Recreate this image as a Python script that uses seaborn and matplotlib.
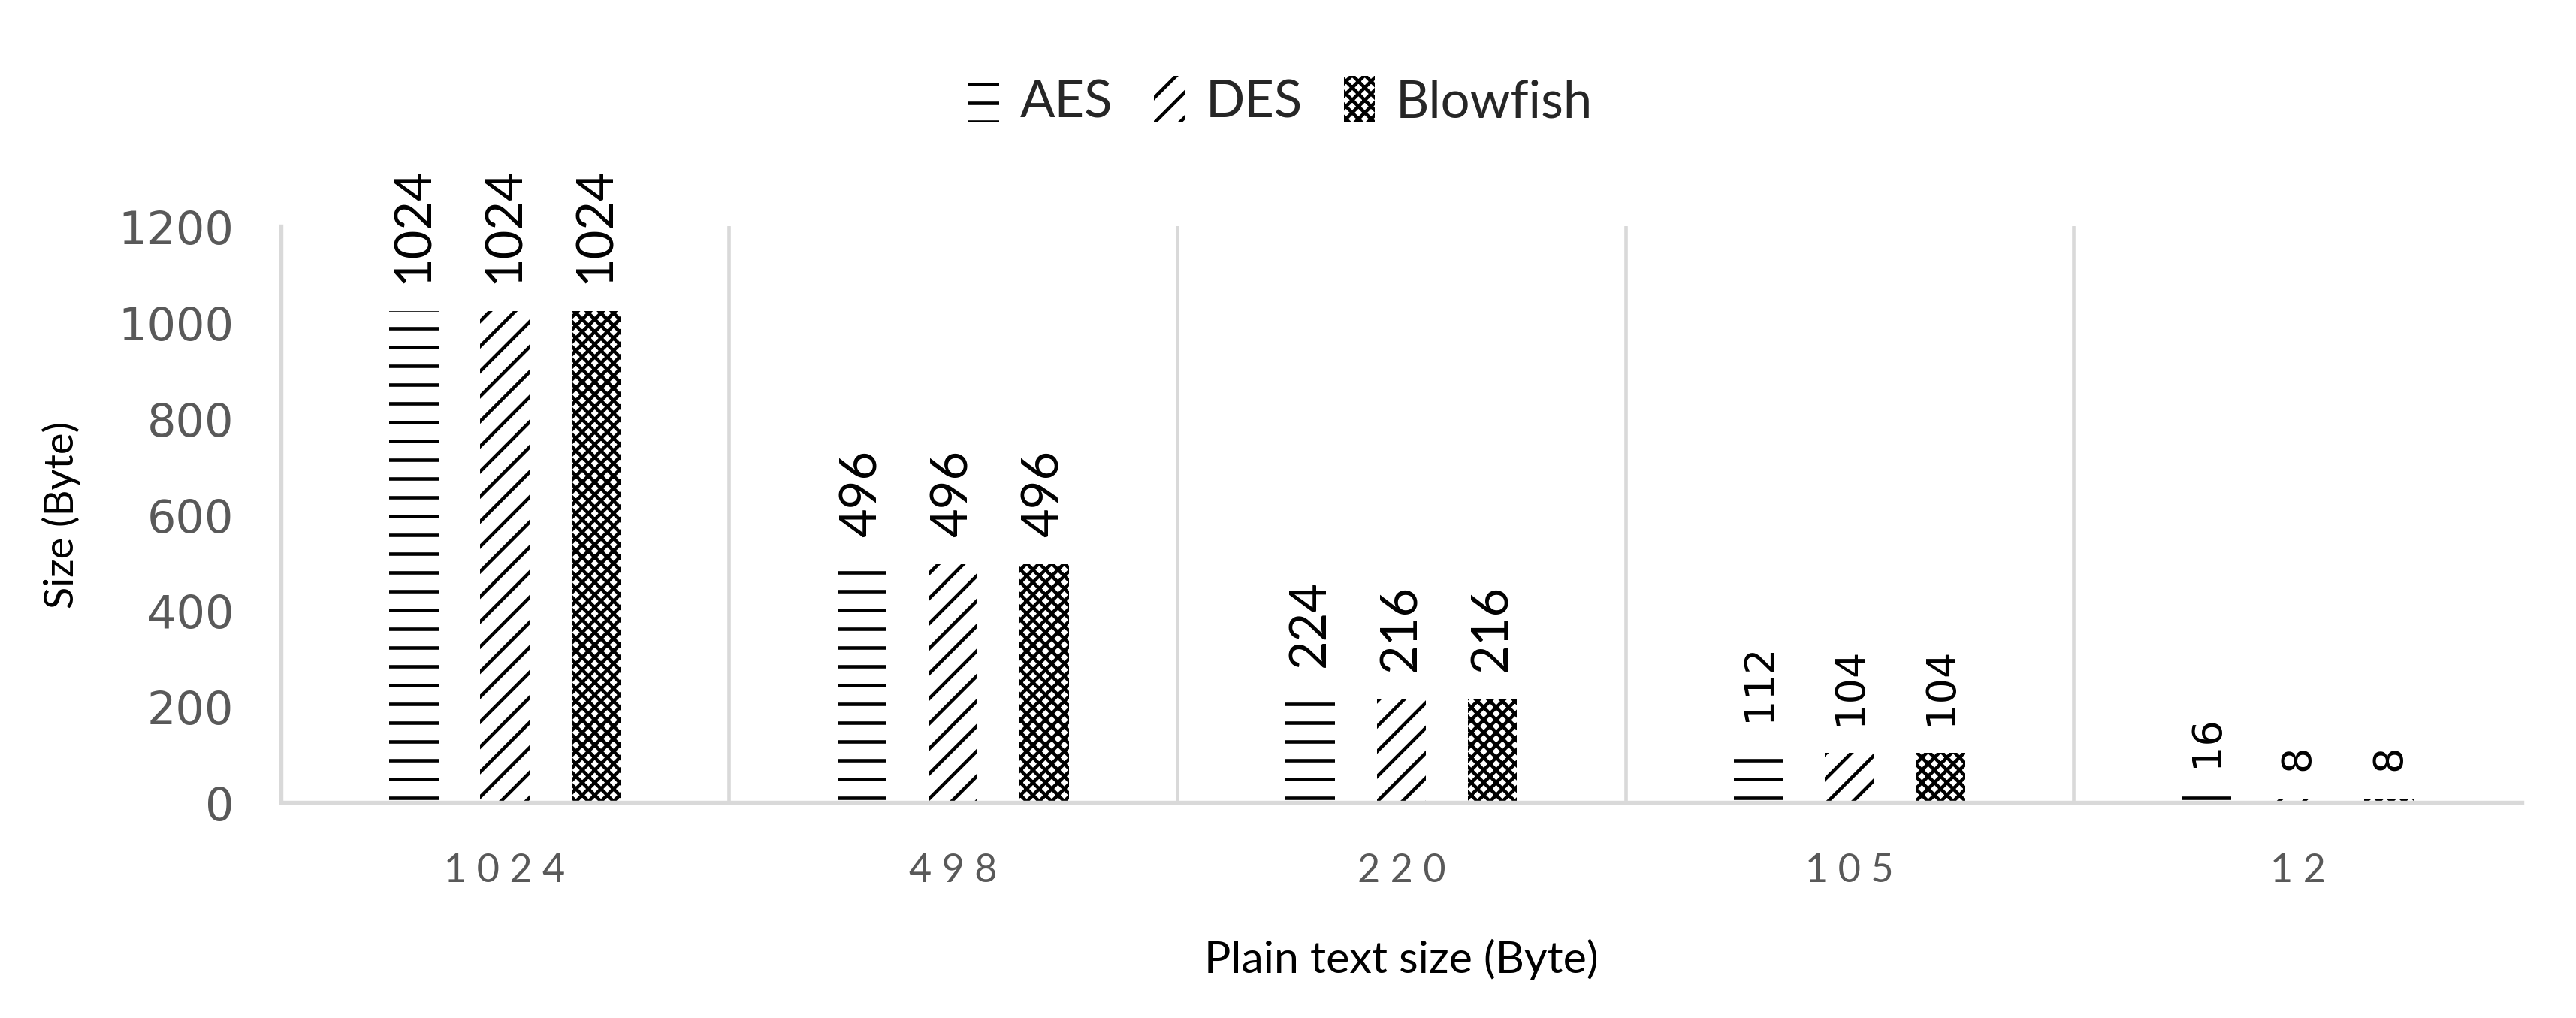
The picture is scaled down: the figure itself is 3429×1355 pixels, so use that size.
import numpy as np
import pandas as pd
import matplotlib
matplotlib.use("Agg")
import matplotlib.pyplot as plt
import seaborn as sns
from matplotlib.patches import Patch

# Data
plain_sizes = ["1024", "498", "220", "105", "12"]
algorithms = ["AES", "DES", "Blowfish"]
aes = [1024, 496, 224, 112, 16]
des = [1024, 496, 216, 104, 8]
blowfish = [1024, 496, 216, 104, 8]
y_ticks = [0, 200, 400, 600, 800, 1000, 1200]

df = pd.DataFrame({
    "size": plain_sizes * 3,
    "algorithm": np.repeat(algorithms, len(plain_sizes)),
    "value": aes + des + blowfish,
})

sns.set_style("white")
plt.rcParams["font.family"] = ["Lato", "DejaVu Sans"]
plt.rcParams["hatch.linewidth"] = 1.1

hatches = {"AES": "--", "DES": "///", "Blowfish": "xxxxxx"}
gray = "#d9d9d9"

fig = plt.figure(figsize=(11.43, 4.52), dpi=300)
ax = fig.add_axes([0.109, 0.2116, 0.87, 0.5656])

sns.barplot(data=df, x="size", y="value", hue="algorithm", order=plain_sizes,
            hue_order=algorithms, palette=["white"] * 3, width=0.61, gap=0.46,
            edgecolor="black", linewidth=0, legend=False, ax=ax)

for cont, alg in zip(ax.containers, algorithms):
    for bar in cont:
        bar.set_hatch(hatches[alg])
        bar.set_edgecolor("black")
        bar.set_linewidth(0)
    labels = ax.bar_label(cont, padding=9, rotation=90, fontsize=16, color="black")
    # the two smallest groups use a wider font in the original
    for i, t in enumerate(labels):
        if i >= 3:
            t.set_fontfamily("DejaVu Sans")
            t.set_fontsize(13)

ax.set_xlim(-0.5, len(plain_sizes) - 0.5)
ax.set_ylim(0, 1200)
ax.set_yticks(y_ticks)
ax.set_yticklabels([str(v) for v in y_ticks], family="DejaVu Sans", fontsize=14.5, color="#595959")
ax.set_xticks(range(len(plain_sizes)))
ax.set_xticklabels([" ".join(s) for s in plain_sizes], fontsize=12.5, color="#595959")
ax.set_xticks(np.arange(0.5, len(plain_sizes) - 0.5, 1), minor=True)
ax.tick_params(axis="x", which="both", length=0, pad=16)
ax.tick_params(axis="y", length=6, width=1, color=gray, direction="out", pad=9)
ax.grid(axis="x", which="minor", color=gray, linewidth=1.1)
ax.grid(axis="y", visible=False)
ax.grid(axis="x", which="major", visible=False)

for side in ["top", "right"]:
    ax.spines[side].set_visible(False)
for side in ["left", "bottom"]:
    ax.spines[side].set_color(gray)
    ax.spines[side].set_linewidth(1.3)

ax.set_xlabel("Plain text size (Byte)", fontsize=14.2, color="black", labelpad=16)
ax.set_ylabel("Size (Byte)", fontsize=13, color="black", labelpad=12)

handles = [Patch(facecolor="white", edgecolor="black", linewidth=0, hatch=hatches[a], label=a)
           for a in algorithms]
fig.legend(handles=handles, loc="center", bbox_to_anchor=(0.497, 0.9), ncol=3, frameon=False,
           fontsize=16.5, handlelength=0.6, handleheight=1.0, handletextpad=0.4, columnspacing=0.8)

fig.savefig("out.png", dpi=300)
